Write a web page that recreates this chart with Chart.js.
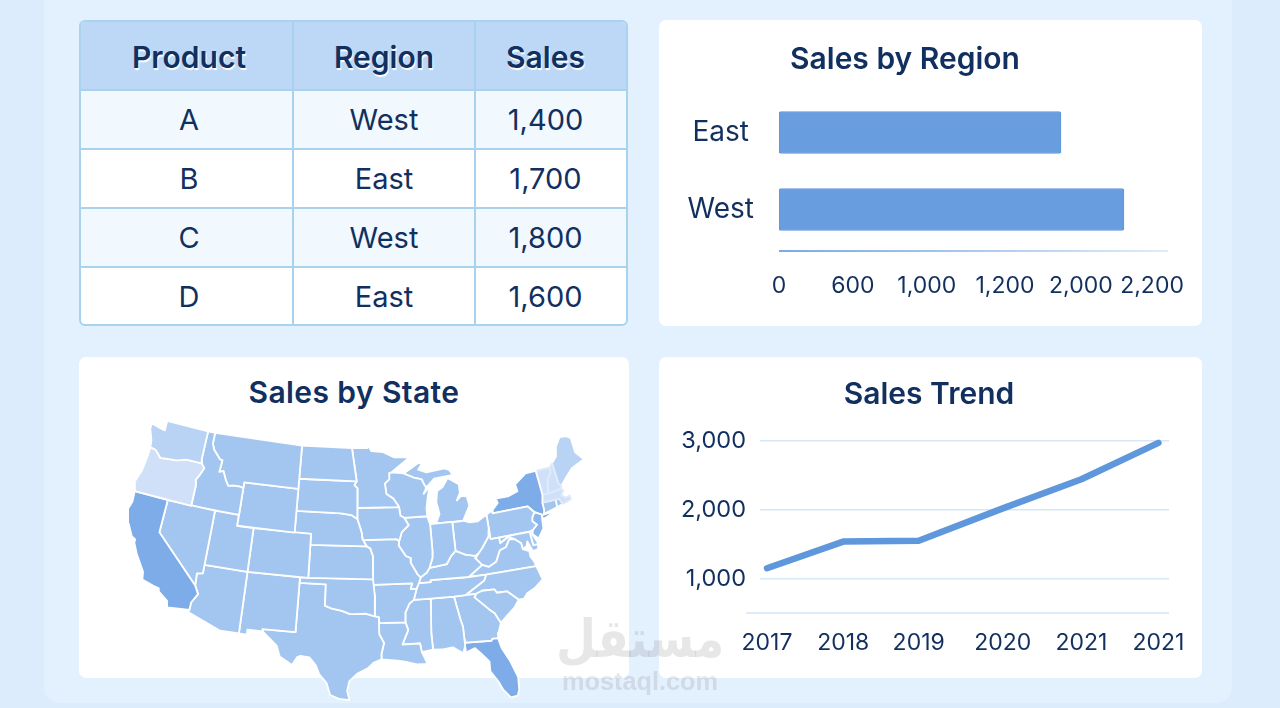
<!DOCTYPE html>
<html lang="en">
<head>
<meta charset="utf-8">
<title>Sales dashboard</title>
<script src="https://cdn.jsdelivr.net/npm/chart.js@4/dist/chart.umd.min.js"></script>
<style>
  html, body { margin: 0; padding: 0; width: 1280px; height: 708px; overflow: hidden; background: #dcecfd; font-family: Inter, "Noto Sans", sans-serif; color: #12305f; }
  .panel { position: absolute; left: 44px; top: -20px; width: 1188px; height: 723px; background: #e3f0fe; border-radius: 16px; }
  .card { position: absolute; background: #fff; border-radius: 7px; }
  .title { position: absolute; margin: 0; font-size: 30px; line-height: 36px; font-weight: 600; color: #12305f; white-space: nowrap; transform: translateX(-50%); }
  canvas { position: absolute; }
  table { position: absolute; left: 79px; top: 20px; width: 549px; height: 306px; border-collapse: separate; border-spacing: 0; table-layout: fixed; background: #fff; border: 2px solid #a9d2ee; border-radius: 6px; box-sizing: border-box; overflow: hidden; }
  th, td { text-align: center; padding: 0; border-right: 2px solid #a9d2ee; border-bottom: 2px solid #a9d2ee; font-size: 29px; color: #12305f; font-weight: 400; }
  th { background: #bcd8f6; font-size: 30px; font-weight: 600; padding-top: 3px; text-shadow: 1px 2px 1px #ffffff; }
  tr > :first-child { padding-left: 5px; }
  tr > :last-child { border-right: 0; padding-right: 11px; }
  tbody tr:last-child td { border-bottom: 0; }
  tbody tr:nth-child(odd) td { background: #f1f8fe; }
  .mark { position: absolute; color: rgba(110,110,110,.17); white-space: nowrap; transform: translateX(-50%); }
</style>
</head>
<body>
<div class="panel"></div>
<table id="salesTable"><colgroup><col style="width:213px"><col style="width:182px"><col></colgroup><thead></thead><tbody></tbody></table>

<div class="card" style="left:659px;top:20px;width:543px;height:306px"></div>
<div class="card" style="left:79px;top:357px;width:550px;height:321px"></div>
<div class="card" style="left:659px;top:357px;width:543px;height:321px"></div>

<canvas id="regionChart" style="left:659px;top:20px" width="543" height="306"></canvas>
<canvas id="stateChart" style="left:79px;top:410px" width="550" height="296"></canvas>
<canvas id="trendChart" style="left:659px;top:357px" width="543" height="321"></canvas>

<h2 class="title" style="left:905px;top:40px">Sales by Region</h2>
<h2 class="title" style="left:354px;top:374px;letter-spacing:.4px">Sales by State</h2>
<h2 class="title" style="left:929px;top:375px">Sales Trend</h2>

<div class="mark" style="left:640px;top:612px;font:700 46px 'DejaVu Sans';transform:translateX(-50%) scaleY(1.15)" dir="rtl">مستقل</div>
<div class="mark" style="left:640px;top:667px;font:700 25.3px 'Liberation Sans'">mostaql.com</div>

<script>
// ---- Table ----
const tableColumns = ["Product", "Region", "Sales"];
const tableProducts = ["A", "B", "C", "D"];
const tableRegions = ["West", "East", "West", "East"];
const tableSales = [1400, 1700, 1800, 1600];

// ---- Sales by region ----
const regionNames = ["East", "West"];
const regionSales = [1790, 2121];
const regionTicks = [0, 600, 1000, 1200, 2000, 2200];

// ---- Sales trend ----
const trendYears = ["2017", "2018", "2019", "2020", "2021", "2021"];
const trendSlots = [0, 0.97, 1.93, 3, 4, 4.98];
const trendSales = [1156, 1540, 1553, 2020, 2440, 2965];
const trendTicks = [1000, 2000, 3000];

// ---- Sales by state, estimated ----
const stateSales = {
  WA: 1200, OR: 850, ME: 1200, NH: 1000, VT: 1000, MA: 1050,
  CA: 2800, NY: 2700, FL: 2600, NJ: 2300,
  ID: 1650, MT: 1650, WY: 1650, NV: 1650, UT: 1650, AZ: 1650, CO: 1650, NM: 1650,
  ND: 1700, SD: 1700, NE: 1700, KS: 1700, OK: 1700, TX: 1750, MN: 1700, IA: 1700,
  MO: 1700, AR: 1700, LA: 1700, WI: 1700, IL: 1700, IN: 1700, OH: 1700, MI: 1700,
  MIU: 1700, KY: 1700, TN: 1700, MS: 1700, AL: 1700, GA: 1750, SC: 1700, NC: 1700,
  VA: 1700, WV: 1700, MD: 1700, DE: 1700, PA: 1700, CT: 1500, RI: 1500
};
// Small northeastern states share a faint edge instead of a white one
const softEdgedStates = ["VT", "NH", "MA"];

// State outlines as [longitude, latitude] pairs
const stateOutlines = {
  WA: [[-124.7,48.38],[-123.2,48.15],[-122.75,48.1],[-122.8,49],[-117.03,49],[-117.04,46.42],[-116.92,45.99],[-118.98,46],[-119.3,45.93],[-120.2,45.73],[-121.2,45.65],[-122.3,45.55],[-122.8,45.9],[-123.2,46.15],[-123.95,46.25],[-124.1,46.9],[-124.7,47.9]],
  OR: [[-123.95,46.25],[-123.2,46.15],[-122.8,45.9],[-122.3,45.55],[-121.2,45.65],[-120.2,45.73],[-119.3,45.93],[-118.98,46],[-116.92,45.99],[-116.46,45.6],[-116.85,44.9],[-117.22,44.4],[-117.03,44],[-117.03,42],[-124.21,42],[-124.55,42.85],[-124.1,44],[-123.95,45.5]],
  CA: [[-124.21,42],[-120,42],[-120,39],[-114.63,35],[-114.13,34.27],[-114.7,33.4],[-114.72,32.72],[-117.12,32.53],[-117.3,33.1],[-118.4,33.75],[-118.5,34.03],[-119.2,34.15],[-120.5,34.45],[-120.65,35.15],[-121.9,36.6],[-122.5,37.5],[-122.5,37.8],[-123,38],[-123.75,39],[-124.35,40.3],[-124.1,41]],
  NV: [[-120,42],[-114.04,42],[-114.04,36.2],[-114.7,36.1],[-114.63,35],[-120,39]],
  ID: [[-117.03,49],[-116.05,49],[-116.05,48],[-115.7,47.45],[-114.7,46.7],[-114.35,46.65],[-114.45,45.55],[-113.95,45.7],[-113.45,44.95],[-113,44.45],[-112.3,44.55],[-111.5,44.55],[-111.05,44.48],[-111.05,42],[-117.03,42],[-117.03,44],[-117.22,44.4],[-116.85,44.9],[-116.46,45.6],[-116.92,45.99],[-117.04,46.42]],
  MT: [[-116.05,49],[-104.05,49],[-104.05,45],[-111.05,45],[-111.05,44.48],[-111.5,44.55],[-112.3,44.55],[-113,44.45],[-113.45,44.95],[-113.95,45.7],[-114.45,45.55],[-114.35,46.65],[-114.7,46.7],[-115.7,47.45],[-116.05,48]],
  WY: [[-111.05,45],[-104.05,45],[-104.05,41],[-111.05,41]],
  UT: [[-114.04,42],[-111.05,42],[-111.05,41],[-109.05,41],[-109.05,37],[-114.04,37]],
  CO: [[-109.05,41],[-102.05,41],[-102.05,37],[-109.05,37]],
  AZ: [[-114.04,37],[-109.05,37],[-109.05,31.33],[-111.07,31.33],[-114.81,32.5],[-114.72,32.72],[-114.7,33.4],[-114.13,34.27],[-114.63,35],[-114.7,36.1],[-114.04,36.2]],
  NM: [[-109.05,37],[-103,37],[-103.04,32],[-106.6,32],[-106.53,31.78],[-108.2,31.78],[-108.2,31.33],[-109.05,31.33]],
  ND: [[-104.05,49],[-97.23,49],[-96.56,45.94],[-104.05,45.94]],
  SD: [[-104.05,45.94],[-96.56,45.94],[-96.85,45.6],[-96.45,45.3],[-96.45,42.49],[-97.2,42.85],[-98.5,42.99],[-104.05,43]],
  NE: [[-104.05,43],[-98.5,42.99],[-97.2,42.85],[-96.45,42.49],[-96.1,41.7],[-95.9,41.2],[-95.85,40.7],[-95.31,40],[-102.05,40],[-102.05,41],[-104.05,41]],
  KS: [[-102.05,40],[-95.31,40],[-94.9,39.8],[-94.6,39.1],[-94.62,37],[-102.05,37]],
  OK: [[-103,37],[-94.62,37],[-94.43,35.4],[-94.48,33.64],[-95.5,33.9],[-96.6,33.85],[-97.2,33.85],[-98.1,34.13],[-99.2,34.3],[-100,34.56],[-100,36.5],[-103,36.5]],
  TX: [[-103,36.5],[-100,36.5],[-100,34.56],[-99.2,34.3],[-98.1,34.13],[-97.2,33.85],[-96.6,33.85],[-95.5,33.9],[-94.48,33.64],[-94.04,33.55],[-94.04,32],[-93.55,31.2],[-93.85,30.2],[-93.85,29.7],[-94.7,29.4],[-95.3,28.9],[-96.4,28.4],[-97.2,27.7],[-97.4,26.8],[-97.15,25.97],[-98.2,26.07],[-99.1,26.4],[-99.5,27.5],[-100.3,28.3],[-100.7,29.1],[-101.4,29.77],[-102.35,29.87],[-102.7,29.7],[-103.15,28.98],[-104.5,29.65],[-104.9,30.6],[-106.53,31.78],[-106.6,32],[-103.04,32]],
  MN: [[-97.23,49],[-95.15,49],[-95.15,49.38],[-94.6,48.72],[-93,48.6],[-91.5,48.07],[-89.5,48],[-92,46.7],[-92.3,46.65],[-92.3,46.1],[-92.9,45.7],[-92.75,44.75],[-91.9,44.3],[-91.22,43.5],[-96.45,43.5],[-96.45,45.3],[-96.85,45.6],[-96.56,45.94]],
  IA: [[-96.45,43.5],[-91.22,43.5],[-91.1,42.7],[-90.65,42.5],[-90.15,41.8],[-91.05,41.2],[-91.42,40.38],[-91.7,40.6],[-95.77,40.58],[-95.9,41.2],[-96.1,41.7],[-96.45,42.49]],
  MO: [[-95.77,40.58],[-91.7,40.6],[-91.42,40.38],[-91.5,40],[-90.7,39],[-90.15,38.8],[-90.2,38.4],[-89.5,37.3],[-89.15,37],[-89.4,36.5],[-89.7,36],[-90.37,36],[-90.15,36.5],[-94.62,36.5],[-94.62,37],[-94.6,39.1],[-94.9,39.8],[-95.31,40],[-95.85,40.7]],
  AR: [[-94.62,36.5],[-90.15,36.5],[-90.37,36],[-89.7,36],[-90.1,35],[-90.6,34.7],[-91.1,33.9],[-91.17,33],[-94.04,33.02],[-94.04,33.55],[-94.48,33.64],[-94.43,35.4]],
  LA: [[-94.04,33.02],[-91.17,33],[-90.9,32.3],[-91.6,31],[-89.73,31],[-89.6,30.2],[-89.4,29.8],[-89.1,29.1],[-90.2,29.1],[-91.3,29.4],[-92.2,29.55],[-93.85,29.7],[-93.85,30.2],[-93.55,31.2],[-94.04,32]],
  WI: [[-92,46.7],[-90.4,46.55],[-89.1,46.1],[-88.1,45.9],[-87.8,45.35],[-87.6,45.1],[-88,44.55],[-87.1,45.2],[-87.5,44.3],[-87.8,43.2],[-87.8,42.49],[-90.65,42.5],[-91.1,42.7],[-91.22,43.5],[-91.9,44.3],[-92.75,44.75],[-92.9,45.7],[-92.3,46.1],[-92.3,46.65]],
  IL: [[-90.65,42.5],[-87.8,42.49],[-87.53,41.72],[-87.53,39.35],[-87.6,38.7],[-88.05,37.8],[-88.4,37.4],[-89.15,37],[-89.5,37.3],[-90.2,38.4],[-90.15,38.8],[-90.7,39],[-91.5,40],[-91.42,40.38],[-91.05,41.2],[-90.15,41.8]],
  IN: [[-87.53,41.72],[-87.2,41.76],[-84.8,41.76],[-84.82,39.1],[-85.4,38.7],[-86,38],[-87.05,37.9],[-88.05,37.8],[-87.6,38.7],[-87.53,39.35]],
  OH: [[-84.8,41.7],[-83.45,41.73],[-82.7,41.5],[-81.7,41.5],[-80.52,41.98],[-80.52,40.64],[-80.7,40],[-81.7,39],[-82.2,38.6],[-82.6,38.42],[-83.7,38.65],[-84.82,39.1]],
  MI: [[-86.8,41.76],[-84.8,41.76],[-83.45,41.73],[-83.1,42.2],[-82.45,43],[-82.6,43.9],[-83.3,44],[-83.9,43.65],[-83.4,44.3],[-83.4,45.1],[-84.75,45.78],[-85.5,45],[-86.25,44.7],[-86.5,43.7],[-86.25,42.6]],
  MIU: [[-90.4,46.55],[-88.4,47.4],[-87.8,47.45],[-88.45,46.8],[-87.4,46.5],[-85,46.7],[-84.4,46.5],[-84,46],[-84.8,45.95],[-86.5,45.85],[-87.6,45.1],[-87.8,45.35],[-88.1,45.9],[-89.1,46.1]],
  KY: [[-89.4,36.5],[-88.05,36.5],[-88.05,36.68],[-83.68,36.6],[-81.97,37.53],[-82.6,38.17],[-82.6,38.42],[-83.7,38.65],[-84.82,39.1],[-85.4,38.7],[-86,38],[-87.05,37.9],[-88.05,37.8],[-88.4,37.4],[-89.15,37]],
  TN: [[-90.1,35],[-89.7,36],[-89.4,36.5],[-88.05,36.5],[-88.05,36.68],[-83.68,36.6],[-81.68,36.59],[-82,36.1],[-84.32,35],[-85.6,34.98],[-88.2,35]],
  MS: [[-90.1,35],[-88.2,35],[-88.45,31.9],[-88.4,30.35],[-89.6,30.2],[-89.73,31],[-91.6,31],[-90.9,32.3],[-91.17,33],[-91.1,33.9],[-90.6,34.7]],
  AL: [[-88.2,35],[-85.6,34.98],[-85.18,32.87],[-85,32.2],[-85,31],[-85,30.4],[-85.3,29.75],[-86.3,30.4],[-87.5,30.3],[-88.4,30.35],[-88.45,31.9]],
  GA: [[-85.6,34.98],[-83.11,35],[-83.35,34.7],[-81.9,33.4],[-81.4,33],[-80.9,32.05],[-81.3,31.2],[-81.45,30.72],[-82.05,30.75],[-82.2,30.57],[-84.86,30.7],[-85,31],[-85,32.2],[-85.18,32.87]],
  FL: [[-85,30.75],[-84.86,30.7],[-82.2,30.57],[-82.05,30.75],[-81.45,30.72],[-81.25,29.8],[-80.55,28.4],[-80.05,26.9],[-80.15,25.75],[-80.4,25.2],[-81.1,25.15],[-81.75,26],[-82.1,26.8],[-82.75,27.8],[-82.7,28.7],[-83.4,29.5],[-84,30.1],[-85,29.8]],
  SC: [[-83.11,35],[-82.4,35.2],[-81,35.15],[-80.8,34.82],[-79.67,34.8],[-78.55,33.86],[-79.2,33.2],[-80.2,32.55],[-80.9,32.05],[-81.4,33],[-81.9,33.4],[-83.35,34.7]],
  NC: [[-84.32,35],[-82,36.1],[-81.68,36.59],[-75.87,36.55],[-75.5,35.25],[-76.5,34.65],[-77.5,34.3],[-77.95,33.87],[-78.55,33.86],[-79.67,34.8],[-80.8,34.82],[-81,35.15],[-82.4,35.2],[-83.11,35]],
  VA: [[-83.68,36.6],[-81.68,36.59],[-75.87,36.55],[-76,37],[-76.3,37.5],[-76.3,38],[-77,38.3],[-77.05,38.85],[-77.7,39.32],[-78.35,39.4],[-78.9,38.75],[-79.65,38.58],[-80.3,37.6],[-81.25,37.25],[-81.97,37.53]],
  WV: [[-81.97,37.53],[-81.25,37.25],[-80.3,37.6],[-79.65,38.58],[-78.9,38.75],[-78.35,39.4],[-77.7,39.32],[-78.35,39.65],[-79.48,39.2],[-79.48,39.72],[-80.52,39.72],[-80.52,40.64],[-80.7,40],[-81.7,39],[-82.2,38.6],[-82.6,38.17]],
  MD: [[-79.48,39.72],[-75.79,39.72],[-75.7,38.46],[-75.05,38.45],[-75.25,38.03],[-75.9,37.95],[-76.3,38.9],[-76.5,38.5],[-77,38.3],[-77.05,38.85],[-77.7,39.32],[-78.35,39.65],[-79.48,39.2]],
  DE: [[-75.79,39.72],[-75.4,39.8],[-75.55,39.5],[-75.05,38.45],[-75.7,38.46]],
  PA: [[-80.52,41.98],[-79.76,42.25],[-79.76,42],[-75.35,42],[-74.7,41.36],[-75.1,40.95],[-75.2,40.6],[-74.75,40.2],[-75.4,39.8],[-75.79,39.72],[-80.52,39.72]],
  NJ: [[-74.7,41.36],[-73.9,41],[-74,40.5],[-74.1,39.75],[-74.9,38.95],[-75.55,39.5],[-75.4,39.8],[-74.75,40.2],[-75.2,40.6],[-75.1,40.95]],
  NY: [[-79.76,42.25],[-79.76,42],[-75.35,42],[-74.7,41.36],[-73.9,41],[-74,40.7],[-73.7,40.6],[-72,41.05],[-73.7,40.95],[-73.65,41],[-73.5,41.3],[-73.5,42.05],[-73.25,42.75],[-73.35,45],[-74.7,45],[-76.3,44.2],[-76.2,43.55],[-77.5,43.27],[-79.05,43.27],[-78.9,42.85]],
  VT: [[-73.35,45],[-71.5,45],[-71.6,44.5],[-72.05,44.1],[-72.45,43.2],[-72.46,42.73],[-73.25,42.75]],
  NH: [[-71.5,45],[-71.08,45.3],[-70.98,43.4],[-70.7,43.07],[-70.82,42.87],[-72.46,42.73],[-72.45,43.2],[-72.05,44.1],[-71.6,44.5]],
  ME: [[-71.08,45.3],[-70.4,45.8],[-70,46.7],[-69.2,47.45],[-68.3,47.35],[-67.8,47.07],[-67.8,45.7],[-67,44.85],[-68.8,44.4],[-69.8,43.75],[-70.7,43.07],[-70.98,43.4]],
  MA: [[-73.5,42.05],[-73.25,42.75],[-72.46,42.73],[-70.82,42.87],[-70.6,42.65],[-71,42.3],[-70.6,41.95],[-70,42.05],[-70,41.7],[-70.65,41.55],[-71.12,41.5],[-71.38,42.02],[-71.8,42.02]],
  RI: [[-71.8,42.02],[-71.38,42.02],[-71.12,41.5],[-71.85,41.32]],
  CT: [[-73.5,42.05],[-71.8,42.02],[-71.85,41.32],[-73.65,41],[-73.5,41.3]]
};

// ---- Shared style ----
const INK = "#12305f";
const FONT = "Inter";
Chart.defaults.animation = false;
Chart.defaults.font.family = FONT;
Chart.defaults.color = INK;

// Fill the table
document.querySelector("#salesTable thead").innerHTML =
  "<tr style='height:69px'>" + tableColumns.map(c => `<th>${c}</th>`).join("") + "</tr>";
document.querySelector("#salesTable tbody").innerHTML = tableProducts.map((p, i) =>
  `<tr><td>${p}</td><td>${tableRegions[i]}</td><td>${tableSales[i].toLocaleString("en-US")}</td></tr>`).join("");

// Linear scale whose ticks sit at given fractions of the axis, so the
// unevenly stepped value labels can be spaced out along it.
const stepAnchors = [
  [0, 0], [600, 0.19], [1000, 0.38], [1200, 0.581], [2000, 0.776], [2200, 0.959], [2245, 1]
];
class SteppedScale extends Chart.LinearScale {
  static id = "stepped";
  static defaults = Chart.LinearScale.defaults;
  getPixelForValue(value) {
    for (let i = 1; i < stepAnchors.length; i++) {
      const [v0, f0] = stepAnchors[i - 1], [v1, f1] = stepAnchors[i];
      if (value <= v1) return this.getPixelForDecimal(f0 + (value - v0) / (v1 - v0) * (f1 - f0));
    }
    return this.getPixelForDecimal(1);
  }
}
Chart.register(SteppedScale);

// Fading rule under the bars
const baseRule = {
  id: "baseRule",
  afterDraw(chart) {
    const { left, right, bottom } = chart.chartArea, { ctx } = chart;
    const g = ctx.createLinearGradient(left, 0, right, 0);
    g.addColorStop(0, "#4f8fd8");
    g.addColorStop(0.5, "#8db7e8");
    g.addColorStop(1, "#d5e6f7");
    ctx.save();
    ctx.strokeStyle = g;
    ctx.lineWidth = 1.5;
    ctx.beginPath();
    ctx.moveTo(left, bottom + 3);
    ctx.lineTo(right, bottom + 3);
    ctx.stroke();
    ctx.restore();
  }
};

// Keep long end labels from shrinking the plot area
const noLabelInset = s => { s.paddingLeft = 0; s.paddingRight = 0; };

new Chart(document.getElementById("regionChart"), {
  type: "bar",
  data: {
    labels: regionNames,
    datasets: [{
      data: regionSales,
      backgroundColor: "#689ee0",
      borderColor: "#5f95da",
      borderWidth: 1,
      borderRadius: 2,
      borderSkipped: false,
      barThickness: 42
    }]
  },
  plugins: [baseRule],
  options: {
    indexAxis: "y",
    responsive: false,
    layout: { padding: { top: 74, right: 34, left: 0, bottom: 0 } },
    plugins: { legend: { display: false }, tooltip: { enabled: false } },
    scales: {
      x: {
        type: "stepped",
        min: 0,
        max: 2245,
        afterBuildTicks: s => { s.ticks = regionTicks.map(value => ({ value })); },
        afterFit: s => { s.height = 78; noLabelInset(s); },
        grid: { display: false, drawTicks: false },
        border: { display: false },
        ticks: {
          autoSkip: false, maxRotation: 0, padding: 24,
          font: { size: 23 }, color: INK,
          callback: v => v.toLocaleString("en-US")
        }
      },
      y: {
        afterFit: s => { s.width = 120; },
        grid: { display: false, drawTicks: false },
        border: { display: false },
        ticks: { crossAlign: "center", padding: 25, font: { size: 28 }, color: INK }
      }
    }
  }
});

// Rule beneath the trend line, running past the grid on the left
const trendBase = {
  id: "trendBase",
  afterDraw(chart) {
    const { left, right, bottom } = chart.chartArea, { ctx } = chart;
    ctx.save();
    ctx.strokeStyle = "#d3e5f6";
    ctx.lineWidth = 1.5;
    ctx.beginPath();
    ctx.moveTo(left - 14, bottom);
    ctx.lineTo(right, bottom);
    ctx.stroke();
    ctx.restore();
  }
};

new Chart(document.getElementById("trendChart"), {
  type: "line",
  data: {
    datasets: [{
      data: trendSales.map((y, i) => ({ x: trendSlots[i], y })),
      borderColor: "#5f97dc",
      borderWidth: 6.5,
      borderCapStyle: "round",
      borderJoinStyle: "round",
      pointRadius: 0,
      tension: 0,
      clip: false
    }]
  },
  plugins: [trendBase],
  options: {
    responsive: false,
    layout: { padding: { top: 83.5, right: 33, left: 0, bottom: 0 } },
    plugins: { legend: { display: false }, tooltip: { enabled: false } },
    scales: {
      x: {
        type: "linear",
        min: -0.089,
        max: 5.115,
        afterBuildTicks: s => { s.ticks = trendSlots.map(value => ({ value })); },
        afterFit: s => { s.height = 65; noLabelInset(s); },
        grid: { display: false, drawTicks: false },
        border: { display: false },
        ticks: {
          autoSkip: false, maxRotation: 0, padding: 16, font: { size: 23 }, color: INK,
          callback: v => trendYears[trendSlots.indexOf(v)]
        }
      },
      y: {
        min: 509,
        max: 3000,
        afterBuildTicks: s => { s.ticks = trendTicks.map(value => ({ value })); },
        afterFit: s => { s.width = 101; },
        grid: { color: "#d6e7f6", lineWidth: 1.5, drawTicks: false },
        border: { display: false },
        ticks: { padding: 14, font: { size: 23.5 }, color: INK, callback: v => v.toLocaleString("en-US") }
      }
    }
  }
});

// Albers equal-area conic projection for the lower 48 states
const DEG = Math.PI / 180;
const albersN = (Math.sin(29.5 * DEG) + Math.sin(45.5 * DEG)) / 2;
const albersC = Math.cos(29.5 * DEG) ** 2 + 2 * albersN * Math.sin(29.5 * DEG);
const albersR0 = Math.sqrt(albersC - 2 * albersN * Math.sin(37.5 * DEG)) / albersN;
function albers([lon, lat]) {
  const rho = Math.sqrt(albersC - 2 * albersN * Math.sin(lat * DEG)) / albersN;
  const theta = albersN * (lon + 96) * DEG;
  return { x: rho * Math.sin(theta), y: albersR0 - rho * Math.cos(theta) };
}

function shadeFor(sales) {
  if (sales >= 2500) return "#7dace8";
  if (sales >= 2100) return "#8cb7ec";
  if (sales >= 1400) return "#a3c6f1";
  if (sales >= 1150) return "#b9d3f5";
  return "#cfe0f8";
}

new Chart(document.getElementById("stateChart"), {
  type: "line",
  data: {
    datasets: Object.keys(stateOutlines).map(code => {
      const ring = stateOutlines[code];
      return {
        label: code,
        data: [...ring, ring[0]].map(albers),
        fill: "shape",
        backgroundColor: shadeFor(stateSales[code]),
        borderColor: softEdgedStates.includes(code) ? "#dfeafa" : "#ffffff",
        borderWidth: 1.8,
        borderJoinStyle: "round",
        pointRadius: 0,
        tension: 0,
        clip: false
      };
    })
  },
  options: {
    responsive: false,
    layout: { padding: 0 },
    plugins: { legend: { display: false }, tooltip: { enabled: false } },
    scales: {
      x: { type: "linear", display: false, min: -0.4462, max: 0.4241 },
      y: { type: "linear", display: false, min: -0.2112, max: 0.2624 }
    }
  }
});
</script>
</body>
</html>
